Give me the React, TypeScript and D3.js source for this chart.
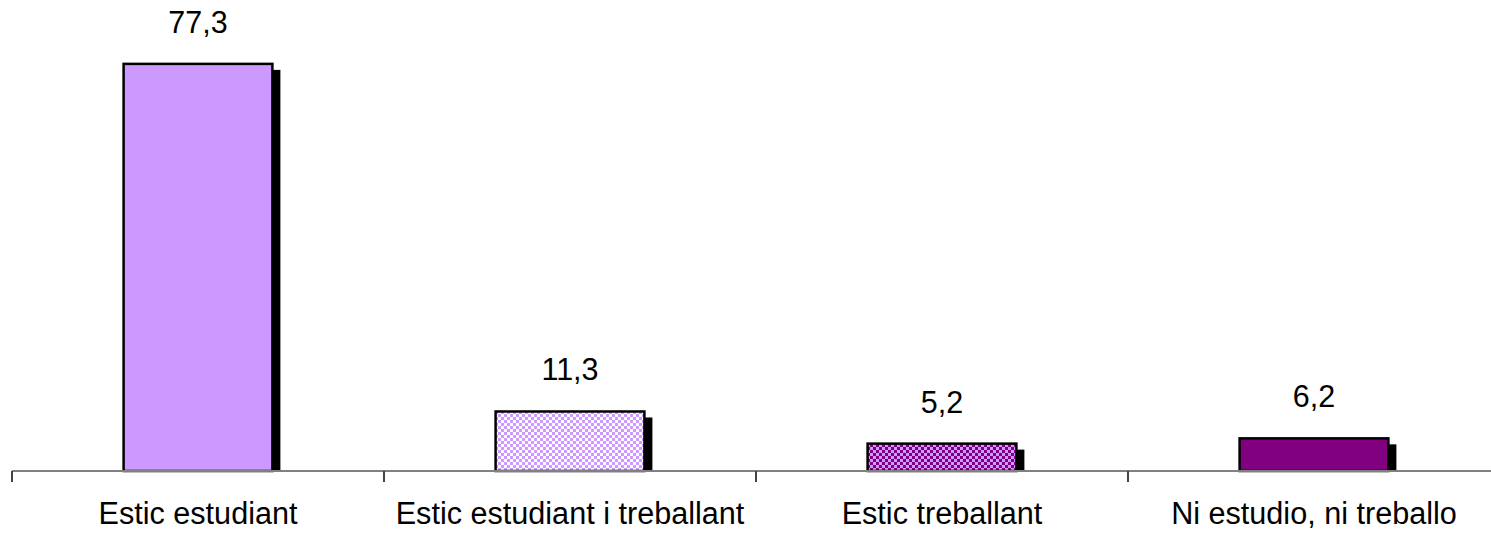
import React from "react";
import * as d3 from "d3";

const categories = [
  "Estic estudiant",
  "Estic estudiant i treballant",
  "Estic treballant",
  "Ni estudio, ni treballo",
];
const values = [77.3, 11.3, 5.2, 6.2];
const valueLabels = ["77,3", "11,3", "5,2", "6,2"];
const fills = ["#CC99FF", "url(#chkLight)", "url(#chkDark)", "#800080"];

const W = 1491;
const H = 533;
const AXIS_Y = 471;

export default function App() {
  const x = d3.scaleBand<string>().domain(categories).range([12, 1500]).paddingInner(0).paddingOuter(0);
  const y = d3.scaleLinear().domain([0, 90]).range([AXIS_Y, -3]);
  const bw = x.bandwidth() * 0.4;
  const font = "'Liberation Sans', Arial, sans-serif";
  const ticks = [...categories.map((c) => x(c) as number), 1500];

  return (
    <svg
      width={W}
      height={H}
      style={{ position: "absolute", left: 0, top: 0, display: "block", background: "#fff" }}
    >
      <defs>
        <pattern id="chkLight" width={6} height={6} patternUnits="userSpaceOnUse">
          <rect width={6} height={6} fill="#FFFFFF" />
          <rect width={3} height={3} fill="#CC99FF" />
          <rect x={3} y={3} width={3} height={3} fill="#CC99FF" />
        </pattern>
        <pattern id="chkDark" width={6} height={6} patternUnits="userSpaceOnUse">
          <rect width={6} height={6} fill="#CC99FF" />
          <rect width={3} height={3} fill="#800080" />
          <rect x={3} y={3} width={3} height={3} fill="#800080" />
        </pattern>
      </defs>
      {categories.map((c, i) => {
        const cx = (x(c) as number) + x.bandwidth() / 2;
        const x0 = cx - bw / 2;
        const yt = y(values[i]);
        const h = AXIS_Y - yt;
        return (
          <g key={c}>
            <rect x={x0 + 8} y={yt + 6} width={bw} height={h - 6} fill="#000" />
            <rect x={x0} y={yt} width={bw} height={h} fill={fills[i]} stroke="#000" strokeWidth={2.5} />
            <text
              x={cx}
              y={yt - 31}
              textAnchor="middle"
              fontFamily={font}
              fontSize={30.5}
              fill="#000"
            >
              {valueLabels[i]}
            </text>
            <text
              x={cx}
              y={524}
              textAnchor="middle"
              fontFamily={font}
              fontSize={30.6}
              fill="#000"
            >
              {c}
            </text>
          </g>
        );
      })}
      <line x1={12} x2={W} y1={AXIS_Y} y2={AXIS_Y} stroke="#808080" strokeWidth={2} />
      {ticks.map((t, i) => (
        <line key={i} x1={t} x2={t} y1={AXIS_Y} y2={AXIS_Y + 11} stroke="#444" strokeWidth={2} />
      ))}
    </svg>
  );
}
